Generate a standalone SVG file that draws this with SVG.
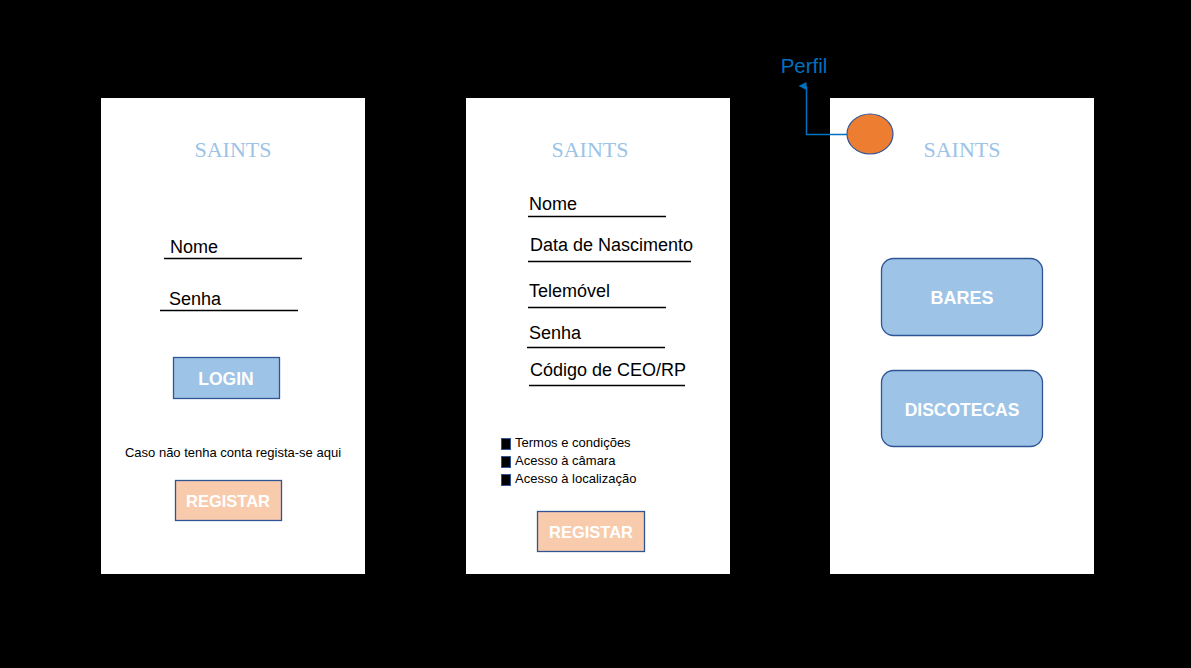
<svg xmlns="http://www.w3.org/2000/svg" width="1191" height="668" viewBox="0 0 1191 668">
<defs>
<style>
.panel{fill:#ffffff}
.logo{font-family:"Liberation Serif",serif;font-size:22px;fill:#9DC3E6;text-anchor:middle}
.lbl{font-family:"Liberation Sans",Arial,sans-serif;font-size:18px;fill:#000}
.ul{stroke:#000;stroke-width:1.3}
.small{font-family:"Liberation Sans",Arial,sans-serif;font-size:13px;fill:#000}
.btn{font-family:"Liberation Sans",Arial,sans-serif;font-weight:bold;fill:#fff;text-anchor:middle}
.blue{fill:#9DC3E6;stroke:#2F5597;stroke-width:1.3}
.orange{fill:#F8CBAD;stroke:#2F5597;stroke-width:1.3}
.chk{fill:#000;stroke:#2F5597;stroke-width:1}
</style>
<marker id="arr" markerWidth="10" markerHeight="10" refX="5" refY="8" orient="auto" markerUnits="userSpaceOnUse">
<path d="M1,8 L5,0 L9,8 Z" fill="#0070C0"/>
</marker>
</defs>
<rect width="1191" height="668" fill="#000"/>

<g id="screen-login">
<rect class="panel" x="101" y="98" width="264" height="476"/>
<text class="logo" x="233" y="156.5">SAINTS</text>
<text class="lbl" x="170" y="253">Nome</text>
<line class="ul" x1="164" y1="258.5" x2="302" y2="258.5"/>
<text class="lbl" x="169" y="305">Senha</text>
<line class="ul" x1="160" y1="310.5" x2="298" y2="310.5"/>
<g id="btn-login">
<rect class="blue" x="173.5" y="357.5" width="106" height="41"/>
<text class="btn" x="226" y="384.5" font-size="17.5">LOGIN</text>
</g>
<text class="small" x="233" y="457" font-size="13.8" text-anchor="middle">Caso não tenha conta regista-se aqui</text>
<g id="btn-registar1">
<rect class="orange" x="175.5" y="480.5" width="106" height="40"/>
<text class="btn" x="228" y="507" font-size="16.5">REGISTAR</text>
</g>
</g>

<g id="screen-register">
<rect class="panel" x="466" y="98" width="264" height="476"/>
<text class="logo" x="590" y="156.5">SAINTS</text>
<text class="lbl" x="529" y="210">Nome</text>
<line class="ul" x1="528" y1="216.5" x2="666" y2="216.5"/>
<text class="lbl" x="530" y="251">Data de Nascimento</text>
<line class="ul" x1="528" y1="261.5" x2="691" y2="261.5"/>
<text class="lbl" x="529" y="297">Telemóvel</text>
<line class="ul" x1="528" y1="307.5" x2="666" y2="307.5"/>
<text class="lbl" x="529" y="339">Senha</text>
<line class="ul" x1="527" y1="347.5" x2="665" y2="347.5"/>
<text class="lbl" x="530" y="376">Código de CEO/RP</text>
<line class="ul" x1="529" y1="385.5" x2="685" y2="385.5"/>
<rect class="chk" x="501.5" y="438.5" width="9" height="11"/>
<text class="small" x="515" y="447">Termos e condições</text>
<rect class="chk" x="501.5" y="456.5" width="9" height="11"/>
<text class="small" x="515" y="465">Acesso à câmara</text>
<rect class="chk" x="501.5" y="474.5" width="9" height="11"/>
<text class="small" x="515" y="483">Acesso à localização</text>
<g id="btn-registar2">
<rect class="orange" x="537.5" y="511.5" width="107" height="40"/>
<text class="btn" x="591" y="538" font-size="16.5">REGISTAR</text>
</g>
</g>

<g id="screen-home">
<rect class="panel" x="830" y="98" width="264" height="476"/>
<text class="logo" x="962" y="156.5">SAINTS</text>
<g id="btn-bares">
<rect class="blue" x="881.5" y="258.5" width="161" height="77" rx="12"/>
<text class="btn" x="962" y="303.5" font-size="18">BARES</text>
</g>
<g id="btn-discotecas">
<rect class="blue" x="881.5" y="370.5" width="161" height="76" rx="12"/>
<text class="btn" x="962" y="415.5" font-size="17.5">DISCOTECAS</text>
</g>
</g>

<g id="perfil-icon">
<ellipse cx="870" cy="134" rx="23" ry="20" fill="#ED7D31" stroke="#2F5597" stroke-width="1.2"/>
</g>
<g id="perfil-label">
<text x="804" y="73" font-family="'Liberation Sans',Arial,sans-serif" font-size="20.5" fill="#0070C0" text-anchor="middle">Perfil</text>
</g>

<g id="connectors">
<polyline points="847,134.5 806.5,134.5 806.5,86" fill="none" stroke="#0070C0" stroke-width="1.5" marker-end="url(#arr)"/>
</g>
</svg>
